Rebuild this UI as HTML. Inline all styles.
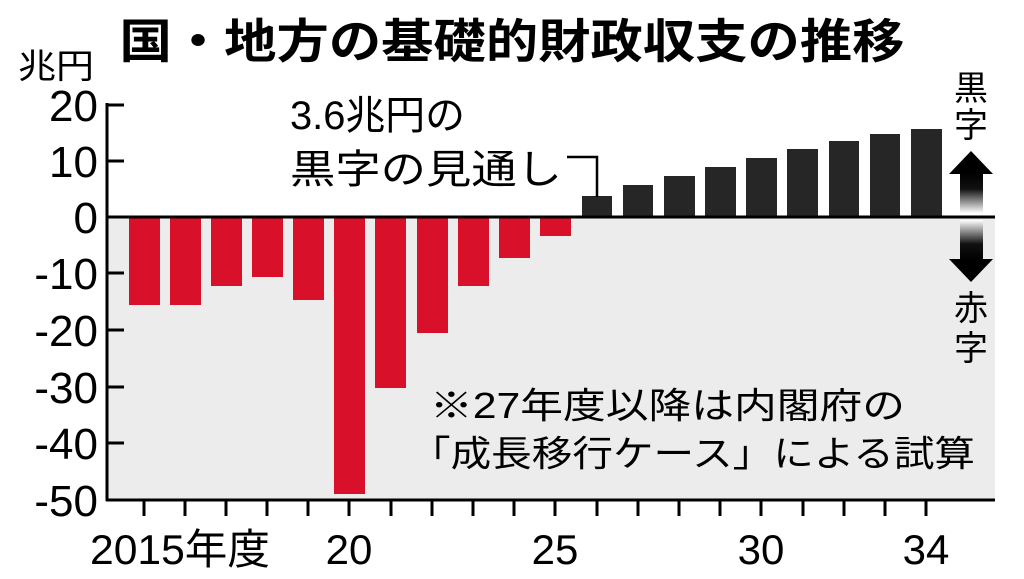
<!DOCTYPE html>
<html><head><meta charset="utf-8"><style>
html,body{margin:0;padding:0;background:#fff;}
svg{display:block;font-family:"Liberation Sans","Noto Sans CJK JP",sans-serif;}
</style></head><body>
<svg width="1024" height="579" viewBox="0 0 1024 579" xmlns="http://www.w3.org/2000/svg">
<defs>
<linearGradient id="gu" x1="0" y1="0" x2="0" y2="1"><stop offset="0" stop-color="#000"/><stop offset="0.4" stop-color="#111"/><stop offset="1" stop-color="#fff"/></linearGradient>
<linearGradient id="gd" x1="0" y1="1" x2="0" y2="0"><stop offset="0" stop-color="#000"/><stop offset="0.4" stop-color="#111"/><stop offset="1" stop-color="#fff"/></linearGradient>
</defs>
<rect x="107" y="217" width="888" height="283" fill="#ececec"/>
<g fill="#d9102a">
<rect x="129" y="217" width="31" height="88"/>
<rect x="170" y="217" width="31" height="88"/>
<rect x="211" y="217" width="31" height="69"/>
<rect x="252" y="217" width="31" height="60"/>
<rect x="293" y="217" width="31" height="83"/>
<rect x="334" y="217" width="31" height="277"/>
<rect x="375" y="217" width="31" height="171"/>
<rect x="417" y="217" width="31" height="116"/>
<rect x="458" y="217" width="31" height="69"/>
<rect x="499" y="217" width="31" height="41"/>
<rect x="540" y="217" width="31" height="19"/>
</g>
<g fill="#262626">
<rect x="582" y="196" width="30" height="21"/>
<rect x="623" y="185" width="30" height="32"/>
<rect x="664" y="176" width="31" height="41"/>
<rect x="705" y="167" width="31" height="50"/>
<rect x="746" y="158" width="31" height="59"/>
<rect x="787" y="149" width="31" height="68"/>
<rect x="829" y="141" width="30" height="76"/>
<rect x="870" y="134" width="30" height="83"/>
<rect x="911" y="129" width="31" height="88"/>
</g>
<g stroke="#000" stroke-width="3" fill="none">
<line x1="107" y1="103" x2="107" y2="501"/>
<line x1="106" y1="500" x2="995" y2="500"/>
<line x1="106" y1="217" x2="995" y2="217"/>
<line x1="107" y1="105" x2="124" y2="105"/>
<line x1="107" y1="161" x2="124" y2="161"/>
<line x1="107" y1="273" x2="124" y2="273"/>
<line x1="107" y1="330" x2="124" y2="330"/>
<line x1="107" y1="387" x2="124" y2="387"/>
<line x1="107" y1="443" x2="124" y2="443"/>
<polyline points="567,157 597,157 597,197" stroke-width="2.5"/>
</g>
<g stroke="#000" stroke-width="3">
<line x1="144" y1="500" x2="144" y2="516"/><line x1="185" y1="500" x2="185" y2="516"/>
<line x1="226" y1="500" x2="226" y2="516"/><line x1="267" y1="500" x2="267" y2="516"/>
<line x1="308" y1="500" x2="308" y2="516"/><line x1="349" y1="500" x2="349" y2="516"/>
<line x1="391" y1="500" x2="391" y2="516"/><line x1="432" y1="500" x2="432" y2="516"/>
<line x1="473" y1="500" x2="473" y2="516"/><line x1="514" y1="500" x2="514" y2="516"/>
<line x1="555" y1="500" x2="555" y2="516"/><line x1="597" y1="500" x2="597" y2="516"/>
<line x1="638" y1="500" x2="638" y2="516"/><line x1="679" y1="500" x2="679" y2="516"/>
<line x1="720" y1="500" x2="720" y2="516"/><line x1="761" y1="500" x2="761" y2="516"/>
<line x1="803" y1="500" x2="803" y2="516"/><line x1="844" y1="500" x2="844" y2="516"/>
<line x1="885" y1="500" x2="885" y2="516"/><line x1="926" y1="500" x2="926" y2="516"/>
</g>
<polygon points="971,151 993,174 949,174" fill="#000"/>
<rect x="960" y="173" width="23" height="40" fill="url(#gu)"/>
<polygon points="971,282 993,259 949,259" fill="#000"/>
<rect x="960" y="220" width="23" height="40" fill="url(#gd)"/>
<text x="512" y="58" text-anchor="middle" font-size="47" font-weight="bold" textLength="785" lengthAdjust="spacingAndGlyphs">国・地方の基礎的財政収支の推移</text>
<text x="18" y="78" font-size="34" textLength="76" lengthAdjust="spacingAndGlyphs">兆円</text>
<g font-size="44" text-anchor="end">
<text x="98" y="121">20</text>
<text x="98" y="177">10</text>
<text x="98" y="233">0</text>
<text x="98" y="289">-10</text>
<text x="98" y="346">-20</text>
<text x="98" y="403">-30</text>
<text x="98" y="459">-40</text>
<text x="98" y="516">-50</text>
</g>
<g font-size="42">
<text x="90" y="564" textLength="180" lengthAdjust="spacingAndGlyphs">2015年度</text>
<text x="349" y="564" text-anchor="middle">20</text>
<text x="555" y="564" text-anchor="middle">25</text>
<text x="761" y="564" text-anchor="middle">30</text>
<text x="926" y="564" text-anchor="middle">34</text>
</g>
<g font-size="40">
<text x="290" y="129" textLength="175" lengthAdjust="spacingAndGlyphs">3.6兆円の</text>
<text x="290" y="183" textLength="272" lengthAdjust="spacingAndGlyphs">黒字の見通し</text>
</g>
<g font-size="36">
<text x="430" y="418" textLength="475" lengthAdjust="spacingAndGlyphs">※27年度以降は内閣府の</text>
<text x="410" y="466" textLength="565" lengthAdjust="spacingAndGlyphs">「成長移行ケース」による試算</text>
</g>
<g font-size="34" text-anchor="middle">
<text x="971" y="100">黒</text>
<text x="971" y="137">字</text>
<text x="971" y="320">赤</text>
<text x="971" y="360">字</text>
</g>
</svg>
</body></html>
